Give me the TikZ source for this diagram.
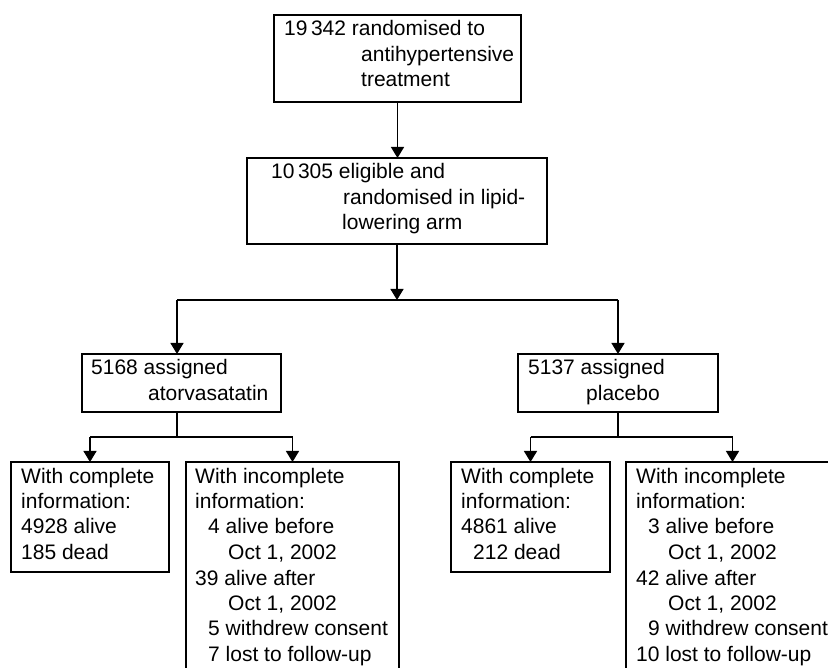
\documentclass[tikz,border=0pt]{standalone}
\usepackage{fontspec}
\setmainfont{Liberation Sans}
\usetikzlibrary{arrows.meta}
\newcommand\flowlines[1]{\begin{tabular}[t]{@{}l@{}}#1\end{tabular}}
\tikzset{
  box/.style={draw, rectangle, line width=1.3pt, inner sep=0pt, outer sep=0pt},
  txt/.style={anchor=base west, inner sep=0pt, font=\fontsize{21}{25.5}\selectfont},
  arr/.style={line width=1.3pt, -{Triangle[width=13pt,length=11pt]}},
  ln/.style={line width=1.3pt}
}
\begin{document}
\begin{tikzpicture}[x=1pt,y=-1pt]
\useasboundingbox (0,0) rectangle (828,668);
\fill[white] (0,0) rectangle (828,668);
\begin{scope}
\clip (0,0) rectangle (828,668);
% boxes
\node[box, minimum width=247pt, minimum height=87pt] (b1) at (397.5,58.5) {};
\node[box, minimum width=300pt, minimum height=86pt] (b2) at (397,201) {};
\node[box, minimum width=199pt, minimum height=58pt] (b3) at (181.5,383) {};
\node[box, minimum width=200pt, minimum height=58pt] (b4) at (618,383) {};
\node[box, minimum width=158pt, minimum height=110pt] (b5) at (90,517) {};
\node[box, minimum width=213pt, minimum height=238pt] (b6) at (292.5,581) {};
\node[box, minimum width=159pt, minimum height=110pt] (b7) at (530.5,517) {};
\node[box, minimum width=213pt, minimum height=238pt] (b8) at (732.5,581) {};
% texts
\node[txt] (t1) at (284,36) {\flowlines{19\,342 randomised to\\ \hspace*{77pt}antihypertensive\\ \hspace*{77pt}treatment}};
\node[txt] (t2) at (271,179) {\flowlines{10\,305 eligible and\\ \hspace*{72pt}randomised in lipid-\\ \hspace*{71pt}lowering arm}};
\node[txt] (t3) at (91,375) {\flowlines{5168 assigned\\ \hspace*{57pt}atorvasatatin}};
\node[txt] (t4) at (528,375) {\flowlines{5137 assigned\\ \hspace*{58pt}placebo}};
\node[txt] (t5) at (21,483) {\flowlines{With complete\\ information:\\ 4928 alive\\ 185 dead}};
\node[txt] (t6) at (195,483) {\flowlines{With incomplete\\ information:\\ \hspace*{13pt}4 alive before\\ \hspace*{33pt}Oct 1, 2002\\ 39 alive after\\ \hspace*{33pt}Oct 1, 2002\\ \hspace*{13pt}5 withdrew consent\\ \hspace*{13pt}7 lost to follow-up}};
\node[txt] (t7) at (461,483) {\flowlines{With complete\\ information:\\ 4861 alive\\ \hspace*{12pt}212 dead}};
\node[txt] (t8) at (636,483) {\flowlines{With incomplete\\ information:\\ \hspace*{12pt}3 alive before\\ \hspace*{32pt}Oct 1, 2002\\ 42 alive after\\ \hspace*{32pt}Oct 1, 2002\\ \hspace*{12pt}9 withdrew consent\\ 10 lost to follow-up}};
% junction coordinates
\coordinate (j1) at (397,300);
\coordinate (j1l) at (177,300);
\coordinate (j1r) at (618,300);
\coordinate (j2) at (177,437);
\coordinate (j2l) at (90,437);
\coordinate (j2r) at (292.5,437);
\coordinate (j3) at (618,437);
\coordinate (j3l) at (530.5,437);
\coordinate (j3r) at (732.5,437);
% connectors
\draw[arr] (b1.south) -- (b1.south |- b2.north);
\draw[arr] (b2.south) -- (j1);
\draw[ln] (j1l) -- (j1r);
\draw[arr] (j1l) -- (j1l |- b3.north);
\draw[arr] (j1r) -- (b4.north);
\draw[ln] (b3.south -| j2) -- (j2);
\draw[ln] (j2l) -- (j2r);
\draw[arr] (j2l) -- (b5.north);
\draw[arr] (j2r) -- (b6.north);
\draw[ln] (b4.south) -- (j3);
\draw[ln] (j3l) -- (j3r);
\draw[arr] (j3l) -- (b7.north);
\draw[arr] (j3r) -- (b8.north);
\end{scope}
\end{tikzpicture}
\end{document}
